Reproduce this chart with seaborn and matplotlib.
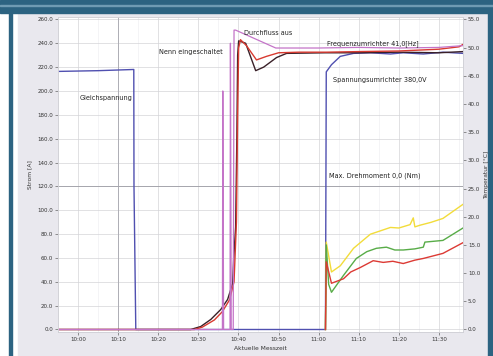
import numpy as np
import pandas as pd
import matplotlib
matplotlib.use("Agg")
import matplotlib.pyplot as plt
from matplotlib.patches import Rectangle
import seaborn as sns

# time axis in minutes, tick every 10 min
x_ticks = [0, 10, 20, 30, 40, 50, 60, 70, 80, 90]
x_labels = ["10:00", "10:10", "10:20", "10:30", "10:40", "10:50", "11:00", "11:10", "11:20", "11:30"]
y_left_ticks = list(range(0, 261, 20))
y_right_ticks = list(range(0, 56, 5))

# left axis series
gleich_x = [-4.73, 5.0, 13.9, 13.95, 14.4, 61.7, 61.9, 63.2, 65.4, 68.7, 72.9, 77.9, 81.1, 86.1, 91.0, 96.0]
gleich_y = [216.4, 217.0, 218.0, 120.0, 0.0, 0.0, 216.0, 222.0, 229.0, 231.5, 232.0, 231.0, 232.0, 231.0, 232.5, 231.5]

dark_x = [-4.73, 28.1, 30.6, 33.1, 35.6, 37.3, 38.56, 38.8, 39.3, 39.6, 39.8, 40.05, 41.8, 44.3, 46.3, 49.5, 52.0, 61.7, 70.0, 80.0, 90.0, 96.0]
dark_y = [0.0, 0.0, 2.5, 8.4, 16.8, 25.2, 38.6, 58.7, 86.0, 160.0, 230.0, 242.0, 240.0, 217.0, 220.0, 228.0, 231.5, 232.0, 232.0, 232.5, 232.0, 233.0]

red_x = [-4.73, 29.0, 31.0, 34.0, 36.0, 37.8, 38.9, 39.5, 39.8, 40.05, 40.5, 42.0, 44.5, 47.0, 50.0, 55.0, 62.0, 70.0, 80.0, 90.0, 95.0, 96.0]
red_y = [0.0, 0.0, 2.0, 8.0, 15.0, 25.0, 40.0, 90.0, 180.0, 236.0, 243.0, 238.0, 226.0, 229.0, 232.0, 232.5, 232.5, 233.0, 233.5, 235.0, 237.0, 239.0]

freq_x = [-4.73, 36.0, 36.1, 36.3, 37.9, 38.0, 38.2, 38.7, 38.9, 39.3, 49.3, 60.0, 70.0, 80.0, 90.0, 96.0]
freq_y = [0.0, 0.0, 200.0, 0.0, 0.0, 240.0, 0.0, 0.0, 251.0, 251.0, 236.0, 236.0, 236.5, 236.0, 236.5, 238.0]

# right axis series
gelb_x = [61.7, 61.9, 63.2, 65.4, 68.7, 72.9, 75.0, 77.9, 80.0, 82.8, 83.6, 84.0, 85.3, 88.0, 91.0, 96.0]
gelb_y = [0.0, 15.5, 10.2, 11.3, 14.4, 16.9, 17.4, 18.1, 18.0, 18.6, 19.8, 18.2, 18.5, 19.0, 19.7, 22.2]
gruen_x = [61.7, 61.9, 62.5, 63.2, 66.2, 69.4, 72.0, 74.4, 76.9, 79.0, 81.1, 84.0, 86.1, 86.5, 91.0, 96.0]
gruen_y = [0.0, 15.0, 8.0, 6.6, 9.6, 12.6, 13.8, 14.4, 14.6, 14.1, 14.1, 14.3, 14.6, 15.5, 15.8, 18.0]
rot_x = [61.7, 61.9, 63.2, 66.2, 68.0, 70.4, 73.6, 76.1, 78.5, 81.1, 84.0, 86.1, 91.0, 96.0]
rot_y = [0.0, 12.0, 8.2, 9.0, 10.2, 11.0, 12.2, 11.9, 12.1, 11.7, 12.3, 12.6, 13.5, 15.4]

teal = "#2c6381"
panel = "#e9e8ee"

fig = plt.figure(figsize=(4.93, 3.56), dpi=100)
fig.patch.set_facecolor("white")
# frame like in the screenshot
frame = [
    ((18 / 493, 0), 470 / 493, 343 / 356, panel),
    ((0, 343 / 356), 1, 13 / 356, teal),
    ((0, 350 / 356), 1, 1 / 356, "#6f9bb3"),
    ((9 / 493, 0), 3 / 493, 343 / 356, teal),
    ((488 / 493, 0), 5 / 493, 343 / 356, teal),
]
for xy, w, h, c in frame:
    fig.patches.append(Rectangle(xy, w, h, transform=fig.transFigure, color=c, zorder=-5))

ax = fig.add_axes([58 / 493, 24 / 356, 405 / 493, 315 / 356])
ax.set_facecolor("white")
ax2 = ax.twinx()

ax.set_xlim(-4.73, 96.0)
ax.set_ylim(-2.1, 262)
ax2.set_ylim(-2.1 * 55 / 260, 262 * 55 / 260)

# grid
ax.set_xticks(x_ticks)
ax.set_xticks(np.arange(-5, 96, 5), minor=True)
ax.grid(which="major", color="#d4d4d8", lw=0.5)
ax.grid(which="minor", axis="x", color="#ececef", lw=0.4)
ax.tick_params(which="minor", length=0)
ax.set_axisbelow(True)
ax.axhline(120, color="#9c9ca4", lw=0.6, zorder=1)
ax.axvline(10, color="#a6a6ae", lw=0.6, zorder=1)

sns.lineplot(x=gleich_x, y=gleich_y, ax=ax, sort=False, estimator=None, color="#5050b0", lw=1.0)
sns.lineplot(x=dark_x, y=dark_y, ax=ax, sort=False, estimator=None, color="#3a2028", lw=1.0)
sns.lineplot(x=red_x, y=red_y, ax=ax, sort=False, estimator=None, color="#d83a30", lw=1.0)
sns.lineplot(x=freq_x, y=freq_y, ax=ax, sort=False, estimator=None, color="#c474c8", lw=0.9)

sns.lineplot(x=gelb_x, y=gelb_y, ax=ax2, sort=False, estimator=None, color="#f2dc3a", lw=1.0)
sns.lineplot(x=gruen_x, y=gruen_y, ax=ax2, sort=False, estimator=None, color="#58ac48", lw=1.0)
sns.lineplot(x=rot_x, y=rot_y, ax=ax2, sort=False, estimator=None, color="#dc3a34", lw=1.0)

fs = 4.7
ax.text(13.6, 193.7, "Gleichspannung", fontsize=fs, ha="right", va="center", color="#222222")
ax.text(36.0, 232.3, "Nenn eingeschaltet", fontsize=fs, ha="right", va="center", color="#222222")
ax.text(41.3, 249.0, "Durchfluss aus", fontsize=fs, ha="left", va="center", color="#222222")
ax.text(62.2, 239.9, "Frequenzumrichter 41,0[Hz]", fontsize=fs, ha="left", va="center", color="#222222")
ax.text(63.7, 208.8, "Spannungsumrichter 380,0V", fontsize=fs, ha="left", va="center", color="#222222")
ax.text(62.6, 129.0, "Max. Drehmoment 0,0 (Nm)", fontsize=fs, ha="left", va="center", color="#222222")

ax.set_xticklabels(x_labels)
ax.set_yticks(y_left_ticks)
ax.set_yticklabels([f"{v:.1f}" for v in y_left_ticks])
ax2.set_yticks(y_right_ticks)
ax2.set_yticklabels([f"{v:.1f}" for v in y_right_ticks])
for a in (ax, ax2):
    a.tick_params(which="major", labelsize=4, length=2, width=0.5, color="#666666", labelcolor="#333333", pad=1.5)
    for s in a.spines.values():
        s.set_color("#d0d0d6")
        s.set_linewidth(0.5)

ax.set_xlabel("Aktuelle Messzeit", fontsize=4.3, color="#333333", labelpad=3)
ax.set_ylabel("Strom [A]", fontsize=4.3, color="#333333", labelpad=4)
ax2.set_ylabel("Temperatur [°C]", fontsize=4.3, color="#333333", labelpad=3)

fig.savefig("out.png", dpi=100)
